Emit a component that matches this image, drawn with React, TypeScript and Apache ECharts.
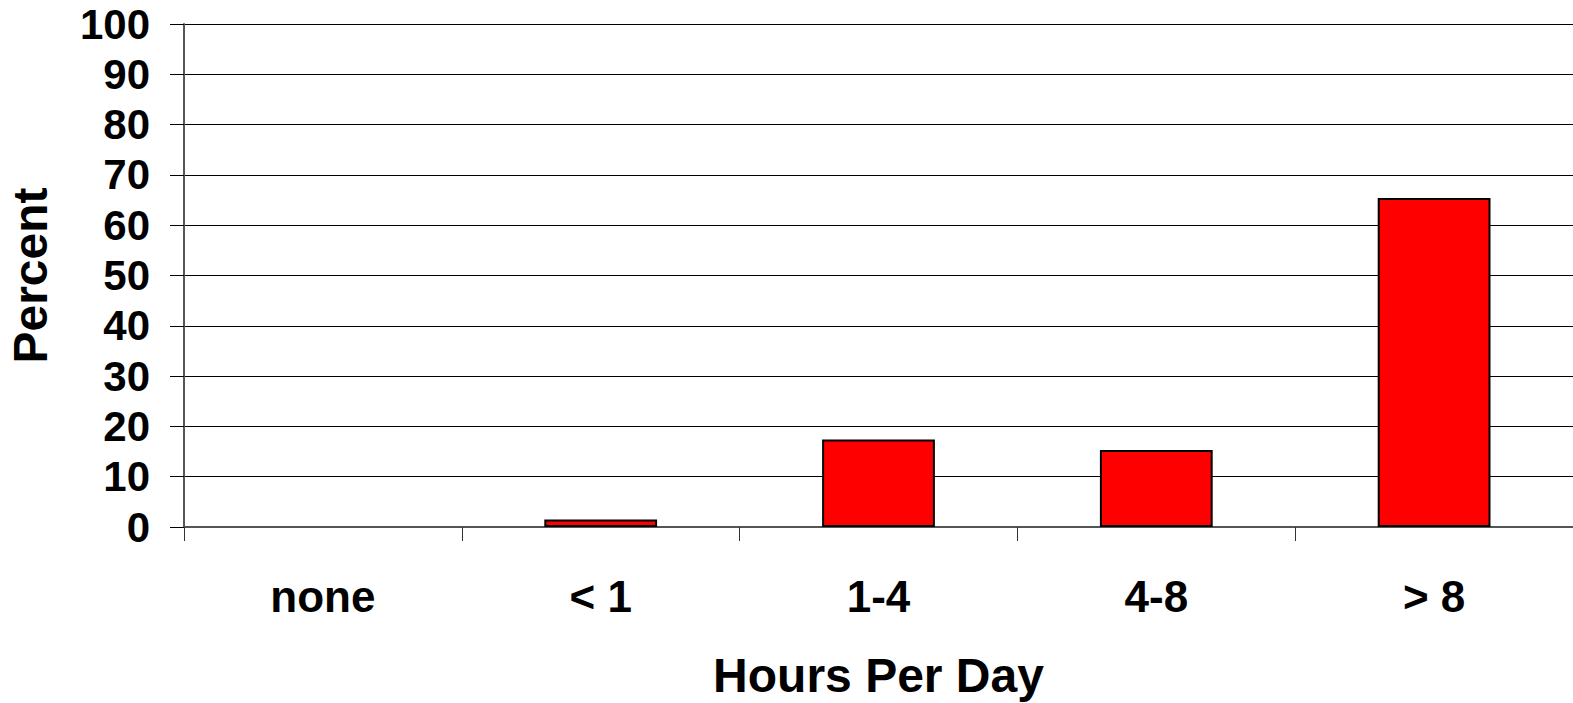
import React, { useEffect, useRef } from "react";
import * as echarts from "echarts";

const categories = ["none", "< 1", "1-4", "4-8", "> 8"];
const percentValues = [0, 1.5, 17.4, 15.3, 65.4];
const yTicks = { min: 0, max: 100, interval: 10 };

const FONT = "'Liberation Sans', Arial, sans-serif";

export default function App() {
  const ref = useRef<HTMLDivElement>(null);
  useEffect(() => {
    document.body.style.margin = "0";
    const chart = echarts.init(ref.current!, null, { renderer: "svg" });
    chart.setOption({
      animation: false,
      backgroundColor: "#ffffff",
      grid: {
        left: 184,
        right: 0,
        top: 24,
        bottom: 176,
        containLabel: false,
        outerBoundsMode: "none",
      },
      xAxis: {
        type: "category",
        data: categories,
        boundaryGap: true,
        axisLine: { show: true, lineStyle: { color: "#555555", width: 2 } },
        axisTick: { show: true, alignWithLabel: false, length: 14, lineStyle: { color: "#333333", width: 1 } },
        axisLabel: {
          margin: 47,
          color: "#000000",
          fontFamily: FONT,
          fontWeight: "bold",
          fontSize: 44,
        },
        name: "Hours Per Day",
        nameLocation: "middle",
        nameGap: 124,
        nameTextStyle: { color: "#000000", fontFamily: FONT, fontWeight: "bold", fontSize: 48 },
        splitLine: { show: false },
      },
      yAxis: {
        type: "value",
        min: yTicks.min,
        max: yTicks.max,
        interval: yTicks.interval,
        axisLine: { show: true, lineStyle: { color: "#555555", width: 2 } },
        axisTick: { show: true, inside: false, length: 14, lineStyle: { color: "#000000", width: 1 } },
        axisLabel: {
          margin: 34,
          color: "#000000",
          fontFamily: FONT,
          fontWeight: "bold",
          fontSize: 42,
        },
        splitLine: { show: true, lineStyle: { color: "#000000", width: 1 } },
        name: "Percent",
        nameLocation: "middle",
        nameGap: 130,
        nameRotate: 90,
        nameTextStyle: { color: "#000000", fontFamily: FONT, fontWeight: "bold", fontSize: 48 },
      },
      series: [
        {
          type: "bar",
          data: percentValues.map((v) =>
            v === 0 ? { value: v, itemStyle: { borderWidth: 0 } } : v
          ),
          barWidth: "40.6%",
          itemStyle: { color: "#ff0000", borderColor: "#000000", borderWidth: 2 },
        },
      ],
    });
    return () => chart.dispose();
  }, []);
  return (
    <div
      ref={ref}
      style={{ position: "absolute", left: 0, top: 0, width: 1573, height: 703 }}
    />
  );
}
